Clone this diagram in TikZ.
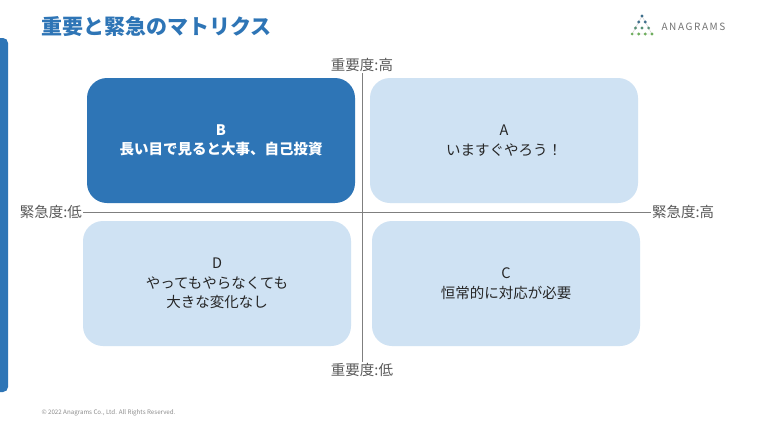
\documentclass[tikz,border=0pt]{standalone}
\usepackage{fontspec}
\setmainfont{Noto Sans CJK JP}
\usepackage{tikz}

\definecolor{mainblue}{HTML}{2E75B6}
\definecolor{paleblue}{HTML}{CFE2F3}
\definecolor{labelgray}{HTML}{595959}
\definecolor{axisgray}{HTML}{7F7F7F}
\definecolor{dotteal}{HTML}{3E6F8C}
\definecolor{dotgreen}{HTML}{6FAE5E}

\begin{document}
\begin{tikzpicture}[x=1pt, y=-1pt,
    quad/.style={rounded corners=20pt, minimum width=268pt, minimum height=125pt,
      align=center, font=\fontsize{14.5}{19.5}\selectfont, text=black!85},
    darkquad/.style={quad, fill=mainblue, text=white, font=\fontsize{14.5}{19.5}\selectfont\bfseries},
    lightquad/.style={quad, fill=paleblue},
    axislabel/.style={inner sep=1pt, text=labelgray, font=\fontsize{14.5}{16}\selectfont}]
  \useasboundingbox[fill=white] (0,0) rectangle (768,432);

  \fill[mainblue, rounded corners=5pt] (-10,38) rectangle (8,392);

  \node[anchor=west, text=mainblue, font=\fontsize{21}{24}\selectfont\bfseries] (title) at (38,27) {重要と緊急のマトリクス};

  \foreach \i in {0,...,3}
    \foreach \j in {0,...,\i}
      \coordinate (dot-\i-\j) at ({642+(\j-\i/2)*6.6}, {16+\i*6});
  \draw[black!20, line width=0.4pt] (dot-0-0) -- (dot-3-0) -- (dot-3-3) -- cycle;
  \foreach \i/\c in {0/dotteal, 1/dotteal, 2/dotteal!50!dotgreen, 3/dotgreen}
    \foreach \j in {0,...,\i}
      \fill[\c] (dot-\i-\j) circle (1.6pt);
  \node[anchor=west, text=black!55, font=\fontsize{10}{12}\selectfont\addfontfeature{LetterSpace=16}] (logo) at (658,27) {ANAGRAMS};

  \node[darkquad]  (B) at (221,140.5) {B\\長い目で見ると大事、自己投資};
  \node[lightquad] (A) at (504,140.5) {A\\いますぐやろう！};
  \node[lightquad] (D) at (217,283.5) {D\\やってもやらなくても\\大きな変化なし};
  \node[lightquad] (C) at (506,283.5) {C\\恒常的に対応が必要};

  \node[axislabel, anchor=south] (imphigh) at (362,73) {重要度:高};
  \node[axislabel, anchor=north] (implow)  at (362,362) {重要度:低};
  \node[axislabel, anchor=east]  (urglow)  at (83,212) {緊急度:低};
  \node[axislabel, anchor=west]  (urghigh) at (651,212) {緊急度:高};

  \draw[axisgray, line width=0.8pt] (imphigh.south) -- (implow.north);
  \draw[axisgray, line width=0.8pt] (urglow.east) -- (urghigh.west);

  \node[anchor=west, text=black!45, font=\fontsize{6.2}{7}\selectfont] (copy) at (38,413) {© 2022 Anagrams Co., Ltd. All Rights Reserved.};
\end{tikzpicture}
\end{document}
